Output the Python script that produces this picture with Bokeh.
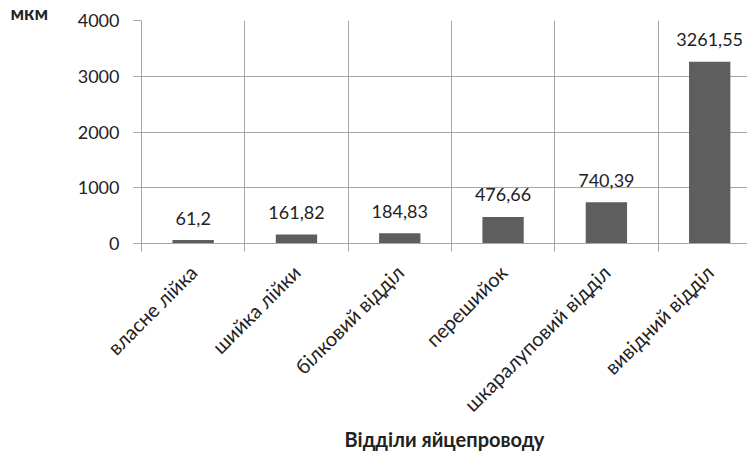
from bokeh.plotting import figure
from bokeh.models import Range1d, FixedTicker, Title
from bokeh.core.properties import value
from bokeh.embed import file_html
from bokeh.resources import INLINE
import math

categories = ["власне лійка", "шийка лійки", "білковий відділ", "перешийок",
              "шкаралуповий відділ", "вивідний відділ"]
values = [61.2, 161.82, 184.83, 476.66, 740.39, 3261.55]
value_labels = ["61,2", "161,82", "184,83", "476,66", "740,39", "3261,55"]
y_ticks = [0, 1000, 2000, 3000, 4000]
x_title = "Відділи яйцепроводу"
y_unit = "мкм"

FONT = "Lato"
GRID = "#a6a6a6"
BAR = "#5e5e5e"
TXT = "#222222"

n = len(categories)
centers = [i + 0.5 for i in range(n)]
bounds = list(range(n + 1))

p = figure(width=747, height=456, output_backend="svg", toolbar_location=None,
           x_range=Range1d(0, 5.866), y_range=Range1d(0, 4000),
           min_border_left=141, min_border_right=0, min_border_top=20,
           min_border_bottom=213)
p.outline_line_color = None
p.background_fill_color = "white"
p.border_fill_color = "white"

p.vbar(x=centers, top=values, width=0.4, color=BAR, line_color=None)
p.text(x=centers, y=values, text=value_labels, text_align="center",
       text_baseline="alphabetic", y_offset=-22,
       text_font=value(FONT), text_font_size="18px", text_color=TXT)

# x axis
p.xaxis.ticker = FixedTicker(ticks=centers, minor_ticks=bounds)
p.xaxis.major_label_overrides = {c: lab for c, lab in zip(centers, categories)}
p.xaxis.major_label_orientation = math.pi / 4
p.xaxis.major_tick_out = 0
p.xaxis.major_tick_in = 0
p.xaxis.minor_tick_out = 8
p.xaxis.minor_tick_in = 0
p.xaxis.minor_tick_line_color = GRID
p.xaxis.axis_line_color = GRID
p.xaxis.major_label_standoff = 17
p.xaxis.major_label_text_font = FONT
p.xaxis.major_label_text_font_size = "20px"
p.xaxis.major_label_text_color = TXT
p.xaxis.axis_label = x_title
p.xaxis.axis_label_text_font = FONT
p.xaxis.axis_label_text_font_style = "bold"
p.xaxis.axis_label_text_font_size = "20px"
p.xaxis.axis_label_text_color = TXT
p.xaxis.axis_label_standoff = 0

p.xgrid.grid_line_color = None
p.xgrid.minor_grid_line_color = GRID

# y axis
p.yaxis.ticker = FixedTicker(ticks=y_ticks)
p.yaxis.major_tick_out = 8
p.yaxis.major_tick_in = 0
p.yaxis.minor_tick_line_color = None
p.yaxis.major_tick_line_color = GRID
p.yaxis.axis_line_color = GRID
p.yaxis.major_label_standoff = 14
p.yaxis.major_label_text_font = FONT
p.yaxis.major_label_text_font_size = "18px"
p.yaxis.major_label_text_color = TXT
p.ygrid.grid_line_color = GRID

p.add_layout(Title(text=y_unit, align="left", offset=-131, standoff=-7,
                   text_font=FONT, text_font_style="bold",
                   text_font_size="19px", text_color=TXT), "above")

open("out.html", "w").write(file_html(p, INLINE))
